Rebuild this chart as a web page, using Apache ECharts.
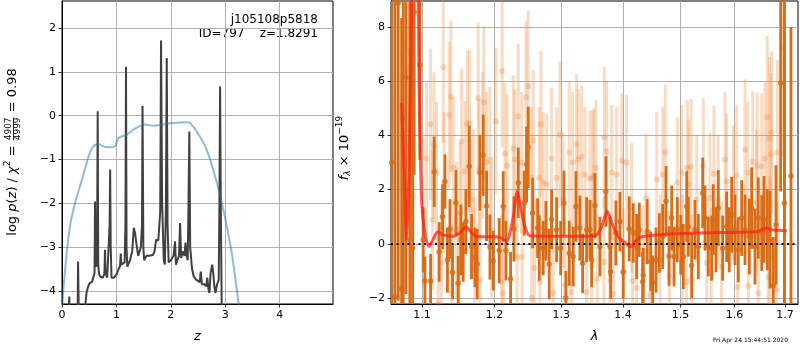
<!DOCTYPE html>
<html>
<head>
<meta charset="utf-8">
<script src="https://cdn.jsdelivr.net/npm/echarts@6/dist/echarts.min.js"></script>
<style>
  html, body { margin: 0; padding: 0; background: #fff; }
  #chart { width: 800px; height: 350px; }
</style>
</head>
<body>
<div id="chart"></div>
<script>
// ---- left panel: log p(z) and chi2 curve
const pzZ = [0.10, 0.125, 0.134, 0.143, 0.285, 0.295, 0.305, 0.315, 0.40, 0.43, 0.45, 0.48, 0.51, 0.55, 0.58, 0.598, 0.607, 0.616, 0.632, 0.646, 0.656, 0.666, 0.68, 0.70, 0.75, 0.78, 0.79, 0.80, 0.83, 0.86, 0.875, 0.885, 0.895, 0.91, 0.95, 1.00, 1.04, 1.066, 1.08, 1.09, 1.12, 1.15, 1.166, 1.176, 1.186, 1.20, 1.25, 1.29, 1.32, 1.345, 1.37, 1.40, 1.45, 1.47, 1.48, 1.495, 1.51, 1.55, 1.60, 1.67, 1.70, 1.73, 1.77, 1.805, 1.82, 1.84, 1.87, 1.89, 1.91, 1.925, 1.94, 1.96, 2.00, 2.05, 2.077, 2.095, 2.12, 2.15, 2.17, 2.19, 2.22, 2.25, 2.27, 2.29, 2.31, 2.325, 2.34, 2.355, 2.39, 2.42, 2.47, 2.53, 2.55, 2.57, 2.62, 2.65, 2.67, 2.69, 2.71, 2.73, 2.76, 2.78, 2.80, 2.82, 2.85, 2.88, 2.893, 2.905, 2.918, 2.935, 2.95];
const pzLog = [-5, -5, -4.13, -5, -5, -3.33, -3.35, -5, -5, -4.3, -4.05, -3.9, -3.82, -3.8, -3.78, -3.6, -1.96, -3.3, -3.45, -2.5, 0.1, -3.4, -3.6, -3.67, -3.7, -3.6, -3.06, -3.6, -3.7, -3.7, -2.5, -1.23, -3.0, -3.7, -3.7, -3.63, -3.5, -3.44, -3.15, -3.4, -3.4, -3.35, -2.5, 1.12, -3.0, -3.45, -3.3, -3.1, -2.56, -2.7, -2.95, -3.2, -3.0, -2.5, 0.23, -3.0, -3.3, -3.2, -3.2, -3.18, -3.1, -2.83, -2.85, -2.2, 1.72, -2.0, -3.3, -3.4, -2.0, 1.32, -2.5, -3.35, -3.3, -3.2, -2.87, -3.4, -3.3, -3.2, -2.45, -3.25, -3.1, -3.2, -2.9, -3.2, -3.3, -2.0, -0.36, -3.0, -3.5, -3.67, -3.75, -3.8, -3.56, -3.85, -3.85, -3.9, -3.7, -3.95, -4.05, -3.6, -3.4, -3.6, -3.9, -4.05, -3.85, -3.75, -2.0, 0.67, -2.0, -4.5, -6];

const chiZ = [0.0, 0.025, 0.086, 0.147, 0.24, 0.33, 0.42, 0.50, 0.576, 0.668, 0.76, 0.85, 0.974, 1.035, 1.19, 1.31, 1.434, 1.526, 1.68, 1.86, 1.985, 2.32, 2.476, 2.66, 2.84, 2.966, 3.12, 3.24, 3.30];
const chiVal = [-4.5, -3.97, -3.14, -2.52, -1.99, -1.61, -1.23, -0.89, -0.70, -0.64, -0.70, -0.72, -0.70, -0.51, -0.43, -0.32, -0.23, -0.20, -0.23, -0.20, -0.17, -0.15, -0.36, -0.78, -1.50, -2.15, -3.14, -4.24, -4.8];

const zTicks = [0, 1, 2, 3, 4];
const logpTicks = [-4, -3, -2, -1, 0, 1, 2];

// ---- right panel: spectrum
const darkWave = [1.0610, 1.0650, 1.0692, 1.0736, 1.0756, 1.0791, 1.0842, 1.0878, 1.0899, 1.0974, 1.1017, 1.1040, 1.1115, 1.1163, 1.1231, 1.1276, 1.1308, 1.1342, 1.1376, 1.1412, 1.1458, 1.1489, 1.1527, 1.1558, 1.1596, 1.1642, 1.1675, 1.1722, 1.1754, 1.1792, 1.1839, 1.1887, 1.1935, 1.1982, 1.2068, 1.2126, 1.2166, 1.2234, 1.2283, 1.2347, 1.2436, 1.2471, 1.2495, 1.2562, 1.2637, 1.2662, 1.2722, 1.2764, 1.2814, 1.2851, 1.2929, 1.2991, 1.3042, 1.3073, 1.3125, 1.3188, 1.3231, 1.3294, 1.3338, 1.3402, 1.3455, 1.3483, 1.3536, 1.3618, 1.3716, 1.3782, 1.3793, 1.3881, 1.3948, 1.4003, 1.4104, 1.4172, 1.4230, 1.4275, 1.4333, 1.4343, 1.4412, 1.4472, 1.4507, 1.4564, 1.4622, 1.4682, 1.4740, 1.4793, 1.4841, 1.4882, 1.4941, 1.5002, 1.5049, 1.5110, 1.5139, 1.5201, 1.5261, 1.5322, 1.5403, 1.5445, 1.5506, 1.5569, 1.5599, 1.5650, 1.5693, 1.5776, 1.5852, 1.5901, 1.5947, 1.6011, 1.6074, 1.6140, 1.6204, 1.6288, 1.6334, 1.6399, 1.6464, 1.6532, 1.6577, 1.6643, 1.6697, 1.6763, 1.6818, 1.6912, 1.6988, 1.7122];
const darkFlux = [3.0, -1.96, 8.9, -1.67, 4.63, 6.15, 0.15, -0.15, 8.55, 6.6, 0.15, -1.37, -1.37, 2.66, -0.3, 1.0, 2.3, -0.6, 0.55, -1.05, 1.52, -1.45, 0.15, -0.3, 0.82, 2.86, -0.1, -0.5, -0.75, 2.62, 3.27, 1.4, -0.12, -0.62, -0.25, 1.38, -0.25, -1.3, 0.55, 2.25, 1.5, 2.93, 3.56, 1.14, 0.58, -0.16, -0.16, 0.48, -0.75, 0.9, 0.52, -0.16, 1.5, -2.0, -0.35, -0.47, 1.38, 0.58, -0.72, 0.52, 0.52, -0.6, 1.41, -0.1, 1.93, -0.1, -1.03, 0.4, 0.82, -1.03, 0.55, 0.4, -0.1, 0.52, -1.4, -1.15, 0.45, -0.65, -1.43, -0.6, 0.03, 0.27, 1.57, -0.45, 0.95, -0.47, 0.52, -0.04, -0.47, 1.38, 0.63, -0.8, 0.52, -0.1, 1.88, 0.95, -0.1, -0.16, 0.9, 0.15, 1.32, -0.16, 0.63, 0.15, 1.07, 0.52, -0.22, 0.95, 0.52, 0.27, 1.32, -0.1, 0.95, 0.4, 0.9, 0.52, 0.15, -1.55, 0.7, 5.93, 1.5, 2.5];
const darkErr = [12, 11, 11, 10, 9, 8, 9, 9, 6, 3.5, 1.2, 0.9, 1.0, 1.3, 1.1, 1.2, 1.0, 1.2, 1.1, 1.0, 1.2, 1.0, 1.3, 1.1, 1.2, 1.5, 1.2, 1.1, 1.3, 1.4, 1.5, 1.3, 1.2, 1.1, 1.2, 1.3, 1.1, 1.0, 1.2, 1.3, 1.2, 1.4, 1.5, 1.3, 1.1, 1.2, 1.0, 1.1, 1.3, 1.1, 1.2, 1.0, 1.2, 1.0, 1.2, 1.1, 1.3, 1.2, 1.1, 1.2, 1.1, 1.0, 1.2, 1.1, 1.3, 1.1, 1.0, 1.2, 1.1, 1.0, 1.2, 1.1, 1.2, 1.0, 1.1, 1.0, 1.2, 1.1, 1.0, 1.2, 1.1, 1.2, 1.3, 1.1, 1.2, 1.1, 1.2, 1.1, 1.2, 1.3, 1.1, 1.2, 1.1, 1.2, 1.3, 1.2, 1.1, 1.2, 1.3, 1.2, 1.4, 1.2, 1.3, 1.2, 1.4, 1.3, 1.2, 1.4, 1.3, 1.4, 1.5, 1.4, 1.5, 1.4, 1.6, 1.5, 1.8, 1.8, 2.2, 4.0, 10, 5.5];

const lightWave = [1.0808, 1.0821, 1.0865, 1.0886, 1.1017, 1.1062, 1.1115, 1.1142, 1.1159, 1.1194, 1.1217, 1.1261, 1.1285, 1.1296, 1.1366, 1.1389, 1.1398, 1.1421, 1.1466, 1.1500, 1.1513, 1.1536, 1.1582, 1.1614, 1.1645, 1.1660, 1.1700, 1.1722, 1.1768, 1.1782, 1.1792, 1.1830, 1.1849, 1.1887, 1.1935, 1.1959, 1.2021, 1.2103, 1.2112, 1.2126, 1.2151, 1.2184, 1.2273, 1.2296, 1.2330, 1.2347, 1.2397, 1.2404, 1.2461, 1.2495, 1.2540, 1.2547, 1.2571, 1.2590, 1.2662, 1.2673, 1.2687, 1.2722, 1.2775, 1.2851, 1.2876, 1.2929, 1.2980, 1.3031, 1.3058, 1.3125, 1.3155, 1.3179, 1.3242, 1.3268, 1.3322, 1.3375, 1.3402, 1.3455, 1.3483, 1.3499, 1.3520, 1.3553, 1.3574, 1.3684, 1.3688, 1.3727, 1.3782, 1.3810, 1.3838, 1.3893, 1.3980, 1.4003, 1.4060, 1.4145, 1.4160, 1.4230, 1.4343, 1.4390, 1.4462, 1.4576, 1.4637, 1.4682, 1.4727, 1.4798, 1.4941, 1.5020, 1.5035, 1.5110, 1.5121, 1.5145, 1.5190, 1.5201, 1.5292, 1.5414, 1.5477, 1.5538, 1.5560, 1.5612, 1.5693, 1.5754, 1.5820, 1.5852, 1.5979, 1.6043, 1.6060, 1.6204, 1.6255, 1.6270, 1.6354, 1.6429, 1.6445, 1.6464, 1.6532, 1.6596, 1.6643, 1.6663, 1.6683, 1.6697, 1.6712, 1.6731, 1.6831, 1.6844, 1.6933];
const lightFlux = [3.59, 7.11, 3.22, 1.74, 1.15, 3.15, 4.41, 0.89, 3.63, 2.63, -2.19, -0.7, 6.52, 2.26, 4.74, 5.44, -1.81, 2.81, 0.52, -1.07, 1.15, 3.78, 2.67, 4.44, 4.44, 1.26, 1.63, -0.96, 5.37, 2.74, -1.33, 3.63, 5.22, 3.0, 3.1, 0.52, 4.52, -1.41, 6.37, -1.81, 3.33, 2.89, 3.52, 3.11, -0.48, 4.7, 3.0, -0.48, 5.41, 5.81, 2.44, -2.0, 3.81, -0.89, 2.44, -1.41, 4.41, 2.26, 2.19, 3.15, -1.81, 2.44, 4.04, 1.63, -1.52, 3.37, -1.78, 3.0, 3.67, 3.11, 3.22, 2.56, -1.78, 2.41, -0.81, 2.44, 2.52, 2.81, -1.3, -0.67, 3.93, 3.41, -1.33, 2.63, -1.85, 2.56, 3.07, -1.07, 3.0, 1.33, -1.37, -1.63, -0.96, 1.67, -1.89, 2.37, -0.59, 2.56, 3.37, -1.19, 2.26, 2.63, -0.59, -1.41, 2.81, 2.19, 2.85, -1.33, 1.63, 2.89, -0.7, 1.70, -1.07, 2.59, 1.63, -0.85, 3.11, 2.3, 1.89, 2.52, -1.59, 3.48, 2.63, -1.56, 3.04, 1.52, 2.89, -1.81, 2.85, 3.15, 4.67, -1.22, 3.89, -0.52, 3.3, 4.11, -1.7, 3.37, 7.22];
const lightErr = [3.0, 3.0, 3.0, 3.0, 2.8, 2.8, 2.8, 2.6, 2.7, 2.6, 2.5, 2.6, 2.8, 2.6, 2.7, 2.8, 2.5, 2.6, 2.5, 2.5, 2.6, 2.7, 2.6, 2.7, 2.7, 2.6, 2.6, 2.5, 2.8, 2.6, 2.5, 2.7, 2.8, 2.6, 2.7, 2.5, 2.7, 2.5, 2.8, 2.5, 2.6, 2.6, 2.7, 2.6, 2.5, 2.7, 2.6, 2.5, 2.8, 2.8, 2.6, 2.5, 2.6, 2.5, 2.6, 2.5, 2.7, 2.6, 2.6, 2.6, 2.5, 2.6, 2.7, 2.5, 2.5, 2.6, 2.5, 2.6, 2.6, 2.6, 2.6, 2.5, 2.5, 2.5, 2.4, 2.5, 2.5, 2.5, 2.4, 2.4, 2.6, 2.6, 2.4, 2.5, 2.4, 2.5, 2.5, 2.4, 2.5, 2.4, 2.4, 2.4, 2.4, 2.4, 2.4, 2.5, 2.4, 2.5, 2.5, 2.4, 2.4, 2.5, 2.4, 2.4, 2.5, 2.4, 2.5, 2.4, 2.4, 2.5, 2.4, 2.4, 2.4, 2.5, 2.4, 2.4, 2.5, 2.5, 2.5, 2.6, 2.5, 2.6, 2.6, 2.6, 2.6, 2.7, 2.7, 2.7, 2.7, 2.8, 3.0, 2.9, 3.0, 3.0, 3.0, 3.0, 3.2, 3.4, 4.0];

const modelWave = [1.0736, 1.0771, 1.0800, 1.0830, 1.0856, 1.0882, 1.0934, 1.0967, 1.0996, 1.1040, 1.1093, 1.1146, 1.1213, 1.1281, 1.1417, 1.1510, 1.1596, 1.1680, 1.1764, 1.2005, 1.2078, 1.2176, 1.2224, 1.2283, 1.2332, 1.2382, 1.2446, 1.2521, 1.3455, 1.3563, 1.3645, 1.3737, 1.3810, 1.3920, 1.4032, 1.4128, 1.4201, 1.4316, 1.4576, 1.5261, 1.6429, 1.6532, 1.6618, 1.6731, 1.7035];
const modelFlux = [5.2, 2.5, 0.15, 2.5, 7.0, 10.5, 10.5, 5.0, 1.6, 0.4, -0.1, 0.15, 0.45, 0.33, 0.28, 0.4, 0.63, 0.4, 0.26, 0.26, 0.24, 0.1, 0.4, 1.15, 1.93, 1.37, 0.63, 0.3, 0.28, 0.33, 0.63, 1.2, 0.78, 0.26, 0.04, -0.11, 0.07, 0.26, 0.33, 0.4, 0.45, 0.52, 0.58, 0.52, 0.48];

const waveTicks = [1.1, 1.2, 1.3, 1.4, 1.5, 1.6, 1.7];
const fluxTicks = [-2, 0, 2, 4, 6, 8];

const FONT = '"DejaVu Sans", sans-serif';
const minus = (v) => String(v).replace('-', '\u2212');

const zip = (...arrs) => arrs[0].map((_, i) => arrs.map((a) => a[i]));

const chart = echarts.init(document.getElementById('chart'), null, { renderer: 'canvas' });

const fluxMin = -2.22, fluxMax = 8.96;

function errBars(color, width) {
  return function (params, api) {
    const x = api.value(0), y = api.value(1), e = api.value(2);
    const lo = Math.max(y - e, fluxMin), hi = Math.min(y + e, fluxMax);
    const p1 = api.coord([x, lo]);
    const p2 = api.coord([x, hi]);
    return {
      type: 'line',
      shape: { x1: p1[0], y1: p1[1], x2: p2[0], y2: p2[1] },
      style: { stroke: color, lineWidth: width }
    };
  };
}

// rotated math-style label built from pieces
const measureCtx = document.createElement('canvas').getContext('2d');
function textWidth(t, size, italic) {
  measureCtx.font = (italic ? 'italic ' : '') + size + 'px "DejaVu Sans"';
  return measureCtx.measureText(t).width;
}
function mathLabel(pieces, cx, cy) {
  let total = 0;
  pieces.forEach((p) => {
    if (p.frac) {
      p.w = Math.max(textWidth(p.frac[0], p.size), textWidth(p.frac[1], p.size)) + 2;
    } else {
      p.w = textWidth(p.t, p.size, p.italic);
    }
    total += p.w;
  });
  let x = -total / 2;
  const children = [];
  pieces.forEach((p) => {
    const font = (p.italic ? 'italic ' : '') + p.size + 'px ' + FONT;
    if (p.frac) {
      children.push({ type: 'text', x: x + p.w / 2, y: -4.5, style: { text: p.frac[0], font, fill: '#000', align: 'center', verticalAlign: 'middle', textAlign: 'center', textVerticalAlign: 'middle' } });
      children.push({ type: 'text', x: x + p.w / 2, y: 5, style: { text: p.frac[1], font, fill: '#000', align: 'center', verticalAlign: 'middle', textAlign: 'center', textVerticalAlign: 'middle' } });
      children.push({ type: 'line', shape: { x1: x + 1, y1: 0.5, x2: x + p.w - 1, y2: 0.5 }, style: { stroke: '#000', lineWidth: 0.8 } });
    } else {
      children.push({ type: 'text', x: x, y: p.dy || 0, style: { text: p.t, font, fill: '#000', align: 'left', verticalAlign: 'middle', textAlign: 'left', textVerticalAlign: 'middle' } });
    }
    x += p.w;
  });
  return { type: 'group', x: cx, y: cy, rotation: Math.PI / 2, children };
}

const leftLabel = mathLabel([
  { t: 'log ', size: 13 },
  { t: 'p', size: 13, italic: true },
  { t: '(', size: 13 },
  { t: 'z', size: 13, italic: true },
  { t: ') / ', size: 13 },
  { t: '\u03c7', size: 13, italic: true },
  { t: '2', size: 9, dy: -5 },
  { t: ' = ', size: 13 },
  { frac: ['4907', '4999'], size: 9 },
  { t: ' = 0.98', size: 13 }
], 13, 152);

const rightLabel = mathLabel([
  { t: 'f', size: 13, italic: true },
  { t: '\u03bb', size: 9, italic: true, dy: 3 },
  { t: ' \u00d7 10', size: 13 },
  { t: '\u221219', size: 9, dy: -5 }
], 345, 148);

const tickLabel = { color: '#000', fontFamily: FONT, fontSize: 11 };
const gridLine = { show: true, lineStyle: { color: '#b0b0b0', width: 1 } };
const axisTick = { show: true, length: 3.5, inside: false, lineStyle: { color: '#000', width: 0.8 } };
const axisLine = { show: true, onZero: false, lineStyle: { color: '#000', width: 1 } };

const option = {
  animation: false,
  backgroundColor: '#fff',
  textStyle: { fontFamily: FONT },
  grid: [
    { left: 62, top: 1, width: 271, height: 303, show: true, borderColor: '#000', borderWidth: 1, backgroundColor: 'transparent', containLabel: false },
    { left: 391, top: 1, width: 407, height: 303, show: true, borderColor: '#000', borderWidth: 1, backgroundColor: 'transparent', containLabel: false }
  ],
  xAxis: [
    {
      gridIndex: 0, type: 'value', min: 0, max: 4.98,
      name: 'z', nameLocation: 'middle', nameGap: 26,
      nameTextStyle: { color: '#000', fontSize: 13, fontStyle: 'italic', fontFamily: FONT },
      axisLine: axisLine,
      axisTick: Object.assign({ customValues: zTicks }, axisTick),
      axisLabel: Object.assign({ customValues: zTicks, margin: 6, formatter: (v) => minus(v) }, tickLabel),
      splitLine: gridLine
    },
    {
      gridIndex: 1, type: 'log', logBase: 10, min: 1.06, max: 1.7267,
      name: '\u03bb', nameLocation: 'middle', nameGap: 26,
      nameTextStyle: { color: '#000', fontSize: 13, fontStyle: 'italic', fontFamily: FONT },
      axisLine: axisLine,
      axisTick: Object.assign({ customValues: waveTicks }, axisTick),
      axisLabel: Object.assign({ customValues: waveTicks, margin: 6, formatter: (v) => Number(v).toFixed(1) }, tickLabel),
      splitLine: gridLine,
      minorTick: { show: false }, minorSplitLine: { show: false }
    }
  ],
  yAxis: [
    {
      gridIndex: 0, type: 'value', min: -4.3, max: 2.62,
      axisLine: axisLine,
      axisTick: Object.assign({ customValues: logpTicks }, axisTick),
      axisLabel: Object.assign({ customValues: logpTicks, margin: 6, formatter: (v) => minus(v) }, tickLabel),
      splitLine: gridLine
    },
    {
      gridIndex: 1, type: 'value', min: fluxMin, max: fluxMax,
      axisLine: axisLine,
      axisTick: Object.assign({ customValues: fluxTicks }, axisTick),
      axisLabel: Object.assign({ customValues: fluxTicks, margin: 6, formatter: (v) => minus(v) }, tickLabel),
      splitLine: gridLine
    }
  ],
  series: [
    {
      name: 'logpz', type: 'line', xAxisIndex: 0, yAxisIndex: 0,
      data: zip(pzZ, pzLog), showSymbol: false, clip: true, z: 3,
      lineStyle: { color: '#404040', width: 2 }
    },
    {
      name: 'chi2', type: 'line', xAxisIndex: 0, yAxisIndex: 0,
      data: zip(chiZ, chiVal), showSymbol: false, clip: true, smooth: 0.2, z: 4,
      lineStyle: { color: 'rgba(31,119,180,0.5)', width: 2 }
    },
    {
      name: 'lightErr', type: 'custom', xAxisIndex: 1, yAxisIndex: 1, clip: true, z: 2,
      renderItem: errBars('rgba(240,140,60,0.3)', 3),
      data: zip(lightWave, lightFlux, lightErr), encode: { x: 0, y: 1 }
    },
    {
      name: 'light', type: 'scatter', xAxisIndex: 1, yAxisIndex: 1, z: 2,
      data: zip(lightWave, lightFlux), symbolSize: 6,
      itemStyle: { color: 'rgba(235,130,50,0.35)' }
    },
    {
      name: 'darkErr', type: 'custom', xAxisIndex: 1, yAxisIndex: 1, clip: true, z: 3,
      renderItem: errBars('#d96c16', 2.8),
      data: zip(darkWave, darkFlux, darkErr), encode: { x: 0, y: 1 }
    },
    {
      name: 'dark', type: 'scatter', xAxisIndex: 1, yAxisIndex: 1, z: 3,
      data: zip(darkWave, darkFlux), symbolSize: 5.5,
      itemStyle: { color: '#d96c16' }
    },
    {
      name: 'model', type: 'line', xAxisIndex: 1, yAxisIndex: 1, z: 5, clip: true,
      data: zip(modelWave, modelFlux), showSymbol: false, smooth: 0.25,
      lineStyle: { color: 'rgba(255,30,20,0.72)', width: 3 },
      markLine: {
        silent: true, symbol: 'none', label: { show: false },
        lineStyle: { color: '#000', type: [2, 3.5], width: 2 },
        data: [{ yAxis: 0 }]
      }
    }
  ],
  graphic: [
    leftLabel,
    rightLabel,
    { type: 'text', x: 318, y: 20, style: { text: 'j105108p5818', font: '12px ' + FONT, fill: '#000', align: 'right', verticalAlign: 'middle', textAlign: 'right', textVerticalAlign: 'middle' } },
    { type: 'text', x: 318, y: 34, style: { text: 'ID=797    z=1.8291', font: '12px ' + FONT, fill: '#000', align: 'right', verticalAlign: 'middle', textAlign: 'right', textVerticalAlign: 'middle' } },
    { type: 'text', x: 788, y: 340, style: { text: 'Fri Apr 24 15:44:51 2020', font: '6px ' + FONT, fill: '#000', align: 'right', verticalAlign: 'middle', textAlign: 'right', textVerticalAlign: 'middle' } }
  ]
};

chart.setOption(option);
</script>
</body>
</html>
